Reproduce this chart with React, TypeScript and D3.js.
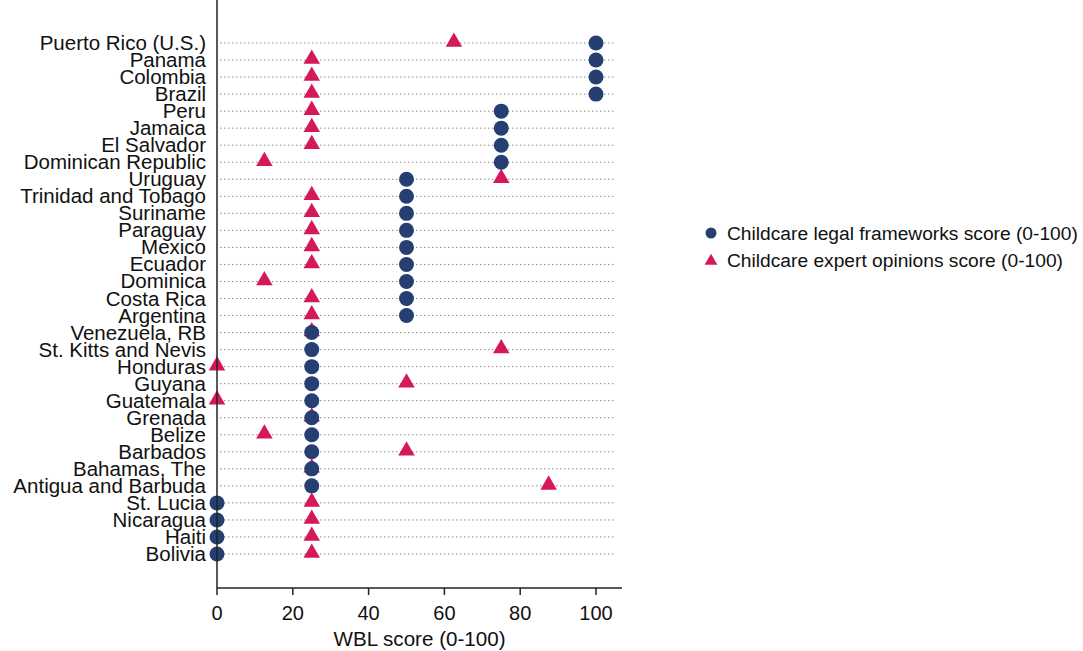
import { useEffect, useRef } from "react";
import * as d3 from "d3";

const countries = [
  "Puerto Rico (U.S.)", "Panama", "Colombia", "Brazil", "Peru", "Jamaica", "El Salvador",
  "Dominican Republic", "Uruguay", "Trinidad and Tobago", "Suriname", "Paraguay", "Mexico",
  "Ecuador", "Dominica", "Costa Rica", "Argentina", "Venezuela, RB", "St. Kitts and Nevis",
  "Honduras", "Guyana", "Guatemala", "Grenada", "Belize", "Barbados", "Bahamas, The",
  "Antigua and Barbuda", "St. Lucia", "Nicaragua", "Haiti", "Bolivia",
];

const legalScores = [
  100, 100, 100, 100, 75, 75, 75, 75, 50, 50, 50, 50, 50, 50, 50, 50, 50,
  25, 25, 25, 25, 25, 25, 25, 25, 25, 25, 0, 0, 0, 0,
];

const expertScores = [
  62.5, 25, 25, 25, 25, 25, 25, 12.5, 75, 25, 25, 25, 25, 25, 12.5, 25, 25,
  25, 75, 0, 50, 0, 25, 12.5, 50, 25, 87.5, 25, 25, 25, 25,
];

const xTicks = [0, 20, 40, 60, 80, 100];

const seriesNames = [
  "Childcare legal frameworks score (0-100)",
  "Childcare expert opinions score (0-100)",
];

export default function App() {
  const svgRef = useRef<SVGSVGElement | null>(null);

  useEffect(() => {
    const width = 1083;
    const height = 651;
    const font = "'Liberation Sans', Arial, sans-serif";
    const navy = "#263f72";
    const red = "#d5185b";

    const svg = d3.select(svgRef.current);
    svg.selectAll("*").remove();

    const x = d3.scaleLinear().domain([0, 100]).range([217, 596]);
    const y = d3.scalePoint<string>().domain(countries).range([43, 554]);
    const xEnd = 622;
    const axisY = 588;

    // dotted row guides
    svg
      .append("g")
      .selectAll("line")
      .data(countries)
      .join("line")
      .attr("x1", 220)
      .attr("x2", 616)
      .attr("y1", (d) => y(d)!)
      .attr("y2", (d) => y(d)!)
      .attr("stroke", "#8a8a8a")
      .attr("stroke-width", 1)
      .attr("stroke-dasharray", "1.5,2.5");

    // row labels (tight, as in the original)
    svg
      .append("g")
      .selectAll("text")
      .data(countries)
      .join("text")
      .attr("x", 206)
      .attr("y", (d) => y(d)! + 7)
      .attr("text-anchor", "end")
      .attr("font-family", font)
      .attr("font-size", 20.5)
      .attr("fill", "#111")
      .text((d) => d);

    const tri = d3.symbol().type(d3.symbolTriangle).size(118);

    svg
      .append("g")
      .selectAll("path")
      .data(expertScores)
      .join("path")
      .attr("d", tri)
      .attr("transform", (d, i) => `translate(${x(d)},${y(countries[i])! - 1})`)
      .attr("fill", red);

    svg
      .append("g")
      .selectAll("circle")
      .data(legalScores)
      .join("circle")
      .attr("cx", (d) => x(d))
      .attr("cy", (d, i) => y(countries[i])!)
      .attr("r", 7.5)
      .attr("fill", navy);

    // axes
    svg
      .append("line")
      .attr("x1", 217)
      .attr("x2", 217)
      .attr("y1", 0)
      .attr("y2", axisY)
      .attr("stroke", "#222")
      .attr("stroke-width", 1.5);

    const xAxis = svg.append("g").attr("transform", `translate(0,${axisY})`);
    xAxis
      .append("line")
      .attr("x1", 217)
      .attr("x2", xEnd)
      .attr("stroke", "#222")
      .attr("stroke-width", 1.5);
    xAxis
      .selectAll("line.tick")
      .data(xTicks)
      .join("line")
      .attr("class", "tick")
      .attr("x1", (d) => x(d))
      .attr("x2", (d) => x(d))
      .attr("y1", 0)
      .attr("y2", 7)
      .attr("stroke", "#222")
      .attr("stroke-width", 1.5);
    xAxis
      .selectAll("text")
      .data(xTicks)
      .join("text")
      .attr("x", (d) => x(d))
      .attr("y", 32)
      .attr("text-anchor", "middle")
      .attr("font-family", font)
      .attr("font-size", 20)
      .attr("fill", "#111")
      .text((d) => d);

    svg
      .append("text")
      .attr("x", (217 + xEnd) / 2)
      .attr("y", 646)
      .attr("text-anchor", "middle")
      .attr("font-family", font)
      .attr("font-size", 20.6)
      .attr("fill", "#111")
      .text("WBL score (0-100)");

    // legend
    const legend = svg.append("g");
    legend.append("circle").attr("cx", 711).attr("cy", 233).attr("r", 5.5).attr("fill", navy);
    legend
      .append("path")
      .attr("d", d3.symbol().type(d3.symbolTriangle).size(70)())
      .attr("transform", "translate(711,261)")
      .attr("fill", red);
    legend
      .selectAll("text")
      .data(seriesNames)
      .join("text")
      .attr("x", 727)
      .attr("y", (d, i) => 240 + i * 27)
      .attr("font-family", font)
      .attr("font-size", 19.2)
      .attr("fill", "#111")
      .text((d) => d);

    svg.attr("width", width).attr("height", height);
  }, []);

  return (
    <svg
      ref={svgRef}
      width={1083}
      height={651}
      style={{ position: "absolute", left: 0, top: 0, background: "#fff" }}
    />
  );
}
